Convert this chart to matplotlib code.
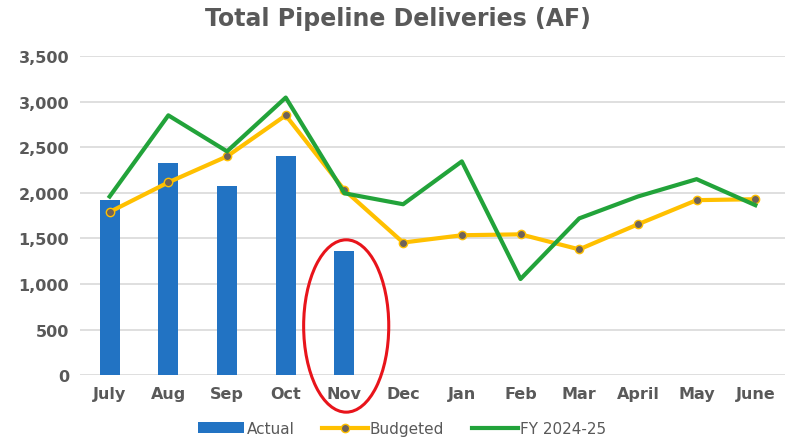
import numpy as np
import matplotlib.pyplot as plt
from matplotlib.patches import Ellipse
from matplotlib.ticker import FuncFormatter

months = ["July", "Aug", "Sep", "Oct", "Nov", "Dec", "Jan", "Feb", "Mar", "April", "May", "June"]
actual = [1920, 2325, 2080, 2400, 1360]
budgeted = [1790, 2115, 2400, 2850, 2030, 1455, 1535, 1545, 1380, 1655, 1920, 1930]
fy2425 = [1960, 2850, 2455, 3045, 1995, 1875, 2345, 1055, 1720, 1960, 2150, 1865]

grey = "#595959"
x = np.arange(len(months))

fig = plt.figure(figsize=(7.95, 4.39), dpi=100)
ax = fig.add_axes([0.101, 0.143, 0.886, 0.727])

bars = ax.bar(x[:len(actual)], actual, width=0.34, color="#2273C3", label="Actual", zorder=2)
bud, = ax.plot(x, budgeted, color="#FFC000", lw=3, marker="o", ms=6,
               mfc="#6E6259", mec="#FFC000", mew=1, label="Budgeted", zorder=3)
fy, = ax.plot(x, fy2425, color="#22A33A", lw=3, label="FY 2024-25", zorder=4)

# red highlight around November
ax.add_patch(Ellipse((4.03, 540), 1.45, 1890, fill=False, ec="#E8141B", lw=2.2,
                     clip_on=False, zorder=5))

ax.set_xlim(-0.5, 11.5)
ax.set_ylim(0, 3500)
ax.set_yticks(np.arange(0, 3501, 500))
ax.yaxis.set_major_formatter(FuncFormatter(lambda v, p: f"{int(v):,}"))
ax.set_xticks(x)
ax.set_xticklabels(months)
ax.grid(axis="y", color="#D9D9D9", lw=1.2, zorder=0)
ax.set_axisbelow(True)
for s in ax.spines.values():
    s.set_visible(False)
ax.tick_params(length=0, labelsize=11.5, colors=grey, pad=8)
for lab in ax.get_xticklabels() + ax.get_yticklabels():
    lab.set_fontweight("bold")

fig.suptitle("Total Pipeline Deliveries (AF)", x=0.5, y=0.985, fontsize=17,
             fontweight="bold", color=grey)

leg = ax.legend([bars, bud, fy], ["Actual", "Budgeted", "FY 2024-25"],
                loc="upper center", bbox_to_anchor=(0.457, -0.1), ncol=3, frameon=False,
                fontsize=11, handlelength=3.0, columnspacing=1.8, handletextpad=0.15)
for t in leg.get_texts():
    t.set_color(grey)

fig.savefig("out.png", dpi=100)
